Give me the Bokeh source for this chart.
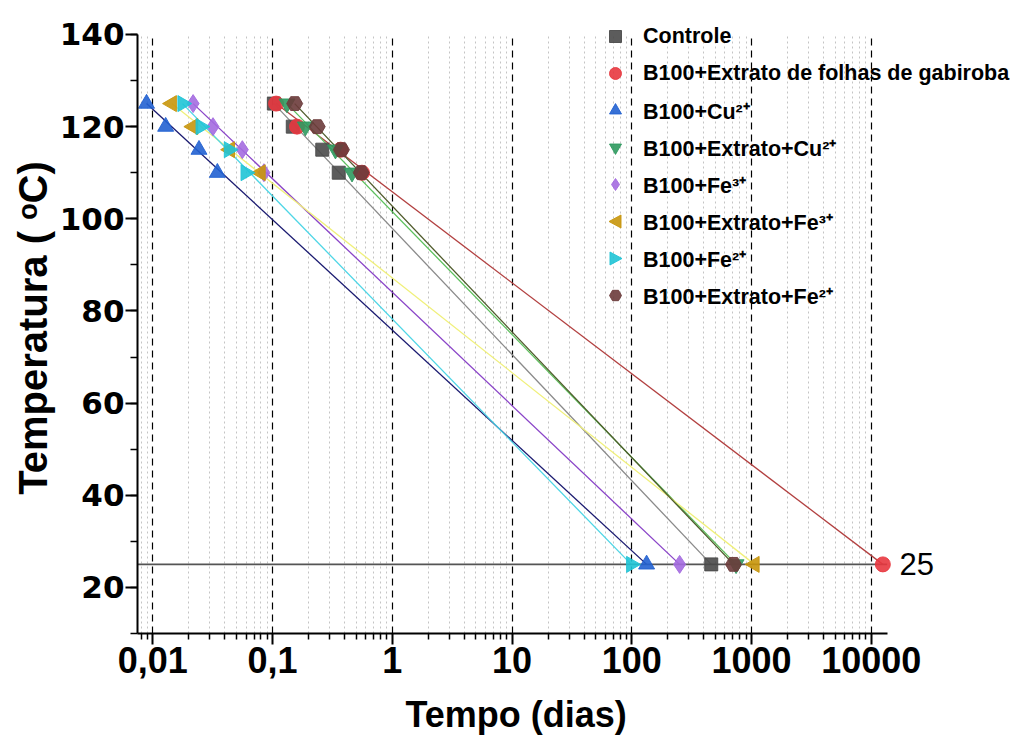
from bokeh.plotting import figure
from bokeh.models import (Label, Legend, LegendItem, FixedTicker, Title, PolyAnnotation,
                          CustomJSTickFormatter, SingleIntervalTicker)
from bokeh.embed import file_html
from bokeh.resources import INLINE

# ---------------- data ----------------
temperatura = [125, 120, 115, 110, 25]
controle = [0.1025, 0.1475, 0.26, 0.357, 461]
gabiroba = [0.107, 0.16, 0.37, 0.558, 12500]
cu2 = [0.00886, 0.0128, 0.0243, 0.0346, 133]
extrato_cu2 = [0.132, 0.188, 0.335, 0.461, 743]
fe3 = [0.0217, 0.0318, 0.0559, 0.0847, 251]
extrato_fe3 = [0.0144, 0.0217, 0.044, 0.0794, 1059]
fe2 = [0.0177, 0.0251, 0.0432, 0.0596, 99]
extrato_fe2 = [0.153, 0.236, 0.376, 0.55, 708]

series_names = ["Controle", "B100+Extrato de folhas de gabiroba", "B100+Cu²⁺",
                "B100+Extrato+Cu²⁺", "B100+Fe³⁺", "B100+Extrato+Fe³⁺",
                "B100+Fe²⁺", "B100+Extrato+Fe²⁺"]
series_values = [controle, gabiroba, cu2, extrato_cu2, fe3, extrato_fe3, fe2, extrato_fe2]

xtick_values = [0.01, 0.1, 1, 10, 100, 1000, 10000]
xtick_labels = ["0,01", "0,1", "1", "10", "100", "1000", "10000"]
ref_temperature = 25

# axis extents (the frame is wider/taller to hold the legend and the "25" label)
x_axis_bounds = (0.00745, 13600)
y_axis_bounds = (10, 140)
x_view = (10 ** -2.128, 10 ** 5.33)
y_view = (10, 142.6)
label_x = 17200

# ---------------- styles ----------------
markers = ["square", "circle", "triangle", "inverted_triangle", "diamond",
           "triangle", "triangle", "hex"]
marker_colors = ["#4a4a4a", "#e8373f", "#2262d2", "#2f9a5f", "#a46be0",
                 "#c8960c", "#20c4d6", "#6b3b3b"]
marker_sizes = [13, 15, 16, 16, 18, 16, 16, 16]
marker_angles = [0, 0, 0, 0, 0, 1.5708, -1.5708, 0]
line_colors = ["#8a8a8a", "#b24040", "#1a1a70", "#5cc05c", "#8a44c8",
               "#f0f07a", "#4ed6e6", "#4e5a2a"]

# legend geometry (screen px, relative to the frame's bottom-left corner)
leg_x, leg_y = 463, 323
leg_glyph, leg_label_h, leg_spacing = 30, 30, 7

p = figure(width=1035, height=751, x_axis_type="log",
           x_range=x_view, y_range=y_view,
           output_backend="svg", toolbar_location=None,
           min_border_left=137, min_border_right=5,
           min_border_top=22, min_border_bottom=118)
p.outline_line_color = None
p.background_fill_color = "white"

# grids
p.ygrid.visible = False
p.xgrid.grid_line_color = "black"
p.xgrid.grid_line_dash = "7 5"
p.xgrid.grid_line_width = 1.2
p.xgrid.minor_grid_line_color = "#c4c4c4"
p.xgrid.minor_grid_line_dash = "2 3"
p.xgrid.minor_grid_line_width = 1
try:
    p.xgrid.cross_bounds = y_axis_bounds
except Exception:
    pass

minor = []
for d in [0.001] + xtick_values[:-1]:
    for m in range(2, 10):
        minor.append(d * m)
p.xaxis.ticker = FixedTicker(ticks=xtick_values, minor_ticks=sorted(minor))
p.xaxis.formatter = CustomJSTickFormatter(
    args=dict(vals=xtick_values, labels=xtick_labels),
    code="""
    let best = 0, bd = 1e9;
    for (let i = 0; i < vals.length; i++) {
        const d = Math.abs(Math.log10(vals[i]) - Math.log10(tick));
        if (d < bd) { bd = d; best = i; }
    }
    return labels[best];
    """)
p.yaxis.ticker = SingleIntervalTicker(interval=20, num_minor_ticks=2)
p.xaxis.bounds = x_axis_bounds
p.yaxis.bounds = y_axis_bounds

# axes styling
for ax in (p.xaxis[0], p.yaxis[0]):
    ax.axis_line_width = 2
    ax.axis_line_color = "black"
    ax.major_tick_line_color = "black"
    ax.major_tick_line_width = 2
    ax.minor_tick_line_color = "black"
    ax.minor_tick_line_width = 1.5
    ax.major_tick_in = 0
    ax.minor_tick_in = 0

p.xaxis.major_tick_out = 11
p.xaxis.minor_tick_out = 6
p.yaxis.major_tick_out = 12
p.yaxis.minor_tick_out = 7

p.xaxis.major_label_text_font = "Liberation Sans"
p.xaxis.major_label_text_font_style = "bold"
p.xaxis.major_label_text_font_size = "36px"
p.xaxis.major_label_text_color = "black"
p.xaxis.major_label_standoff = 2

p.yaxis.major_label_text_font = "DejaVu Sans"
p.yaxis.major_label_text_font_style = "bold"
p.yaxis.major_label_text_font_size = "31px"
p.yaxis.major_label_text_color = "black"
p.yaxis.major_label_standoff = 1

p.yaxis.axis_label = "Temperatura ( ᵒC)"
p.yaxis.axis_label_text_font = "Liberation Sans"
p.yaxis.axis_label_text_font_style = "bold"
p.yaxis.axis_label_text_font_size = "40px"
p.yaxis.axis_label_text_color = "black"
p.yaxis.axis_label_standoff = 2

xtitle = Title(text="Tempo (dias)", align="left", offset=268, standoff=33,
               text_font="Liberation Sans", text_font_style="bold",
               text_font_size="36px", text_color="black")
p.add_layout(xtitle, "below")

# fitted lines (first point to extrapolated 25 °C point)
for vals, lc in zip(series_values, line_colors):
    p.line([vals[0], vals[-1]], [temperatura[0], temperatura[-1]],
           line_color=lc, line_width=1.3)

p.segment(x0=[x_axis_bounds[0]], x1=[x_axis_bounds[1]],
          y0=[ref_temperature], y1=[ref_temperature],
          line_color="#555555", line_width=1.6)

items = []
rotated_keys = []
for i, (name, vals, mk, mc, ms, ang) in enumerate(zip(series_names, series_values, markers,
                                                     marker_colors, marker_sizes, marker_angles)):
    r = p.scatter(vals, temperatura, marker=mk, size=ms, angle=ang,
                  fill_color=mc, line_color=mc, fill_alpha=0.9, line_alpha=0.9)
    if ang != 0:
        # legend keys ignore the marker angle: use an invisible key + a drawn rotated triangle
        dummy = p.scatter([], [], marker="square", fill_alpha=0, line_alpha=0)
        items.append(LegendItem(label=name, renderers=[dummy]))
        rotated_keys.append((i, ang, mc))
    else:
        items.append(LegendItem(label=name, renderers=[r]))

legend = Legend(items=items, location=(leg_x, leg_y))
legend.border_line_color = None
legend.background_fill_alpha = 0
legend.padding = 0
legend.margin = 0
legend.glyph_width = leg_glyph
legend.glyph_height = leg_glyph
legend.label_height = leg_label_h
legend.spacing = leg_spacing
legend.label_standoff = 13
legend.label_text_font = "Liberation Sans"
legend.label_text_font_style = "bold"
legend.label_text_font_size = "21.5px"
legend.label_text_color = "black"
p.add_layout(legend)

# rotated triangle keys for the left/right-triangle series
n_items = len(items)
leg_height = n_items * leg_label_h + (n_items - 1) * leg_spacing
h = 6.5
for i, ang, mc in rotated_keys:
    cx = leg_x + leg_glyph / 2
    cy = leg_y + leg_height - (i * (leg_label_h + leg_spacing) + leg_label_h / 2)
    d = 1 if ang > 0 else -1  # +1 -> points left, -1 -> points right
    xs = [cx - d * h, cx + d * h * 0.85, cx + d * h * 0.85]
    ys = [cy, cy + h, cy - h]
    p.add_layout(PolyAnnotation(xs=xs, ys=ys, xs_units="screen", ys_units="screen",
                                fill_color=mc, fill_alpha=0.9, line_color=mc, line_alpha=0.9))

p.add_layout(Label(x=label_x, y=ref_temperature, text=str(ref_temperature),
                   text_font="Liberation Sans", text_font_size="31px",
                   text_baseline="middle", text_color="black"))

open("out.html", "w").write(file_html(p, INLINE))
